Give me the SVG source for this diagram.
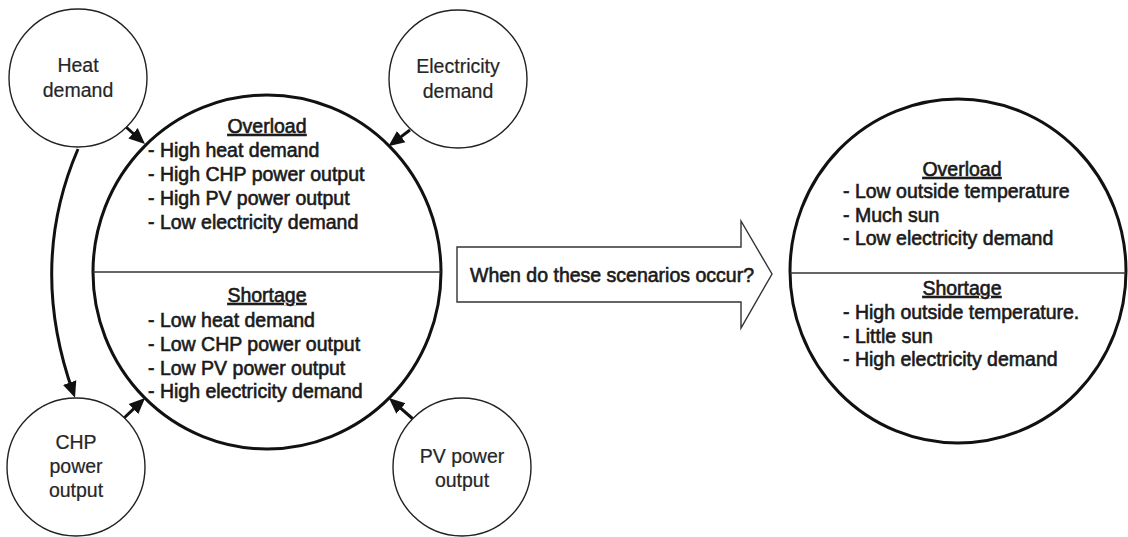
<svg xmlns="http://www.w3.org/2000/svg" width="1128" height="537" viewBox="0 0 1128 537">
  <style>
    .bg { fill: #ffffff; }
    .small { fill: #ffffff; stroke: #222222; stroke-width: 1.4; }
    .big { fill: #ffffff; stroke: #111111; stroke-width: 3; }
    .divider { stroke: #333333; stroke-width: 1.4; }
    .label { font-family: "Liberation Sans", Arial, sans-serif; font-size: 19.5px; fill: #262626; stroke: #262626; stroke-width: 0.2; text-anchor: middle; }
    .item { font-family: "Liberation Sans", Arial, sans-serif; font-size: 19.5px; fill: #1a1a1a; stroke: #1a1a1a; stroke-width: 0.6; }
    .head { text-anchor: middle; text-decoration: underline; }
    .conn { fill: none; stroke: #111111; stroke-width: 3; }
    .block { fill: #ffffff; stroke: #333333; stroke-width: 1.4; stroke-linejoin: miter; }
  </style>
  <defs>
    <marker id="arrow" markerUnits="userSpaceOnUse" markerWidth="17" markerHeight="16" viewBox="0 0 17 16" refX="10" refY="8" orient="auto">
      <path d="M0,1 L16,8 L0,15 z" fill="#111111"/>
    </marker>
  </defs>

  <rect class="bg" x="0" y="0" width="1128" height="537"/>

  <!-- connectors -->
  <g id="connectors">
    <path class="conn" d="M126,127 L140.5,140" marker-end="url(#arrow)"/>
    <path class="conn" d="M410,130 L393.2,142.6" marker-end="url(#arrow)"/>
    <path class="conn" d="M123,419 L140.7,402.2" marker-end="url(#arrow)"/>
    <path class="conn" d="M413,419 L393.4,401.9" marker-end="url(#arrow)"/>
    <path class="conn" d="M78,149 Q28,265 73,392" marker-end="url(#arrow)"/>
  </g>

  <!-- influencing factors -->
  <g id="heat-demand">
    <circle class="small" cx="78" cy="78" r="69"/>
    <text class="label" x="78" y="72">Heat</text>
    <text class="label" x="78" y="97">demand</text>
  </g>
  <g id="electricity-demand">
    <circle class="small" cx="458" cy="79" r="69"/>
    <text class="label" x="458" y="73">Electricity</text>
    <text class="label" x="458" y="98">demand</text>
  </g>
  <g id="chp-power-output">
    <circle class="small" cx="76" cy="467" r="69"/>
    <text class="label" x="76" y="449">CHP</text>
    <text class="label" x="76" y="473">power</text>
    <text class="label" x="76" y="497">output</text>
  </g>
  <g id="pv-power-output">
    <circle class="small" cx="462" cy="467" r="69"/>
    <text class="label" x="462" y="463">PV power</text>
    <text class="label" x="462" y="487">output</text>
  </g>

  <!-- grid scenarios by cause -->
  <g id="scenarios-causes">
    <ellipse class="big" cx="267" cy="272" rx="174" ry="177"/>
    <line class="divider" x1="93" y1="272" x2="441" y2="272"/>
    <text class="item head" x="267" y="133">Overload</text>
    <text class="item" x="148" y="157">- High heat demand</text>
    <text class="item" x="148" y="181">- High CHP power output</text>
    <text class="item" x="148" y="205">- High PV power output</text>
    <text class="item" x="148" y="229">- Low electricity demand</text>
    <text class="item head" x="267" y="302">Shortage</text>
    <text class="item" x="148" y="327">- Low heat demand</text>
    <text class="item" x="148" y="351">- Low CHP power output</text>
    <text class="item" x="148" y="375">- Low PV power output</text>
    <text class="item" x="148" y="398">- High electricity demand</text>
  </g>

  <!-- block arrow -->
  <g id="question">
    <polygon class="block" points="457,247 741,247 741,221 772,274 741,328 741,302 457,302"/>
    <text class="item" x="470" y="282">When do these scenarios occur?</text>
  </g>

  <!-- grid scenarios by conditions -->
  <g id="scenarios-conditions">
    <ellipse class="big" cx="958" cy="271" rx="168" ry="172"/>
    <line class="divider" x1="790" y1="273" x2="1126" y2="273"/>
    <text class="item head" x="962" y="176">Overload</text>
    <text class="item" x="843" y="198">- Low outside temperature</text>
    <text class="item" x="843" y="222">- Much sun</text>
    <text class="item" x="843" y="245">- Low electricity demand</text>
    <text class="item head" x="962" y="295">Shortage</text>
    <text class="item" x="843" y="319">- High outside temperature.</text>
    <text class="item" x="843" y="343">- Little sun</text>
    <text class="item" x="843" y="366">- High electricity demand</text>
  </g>
</svg>
